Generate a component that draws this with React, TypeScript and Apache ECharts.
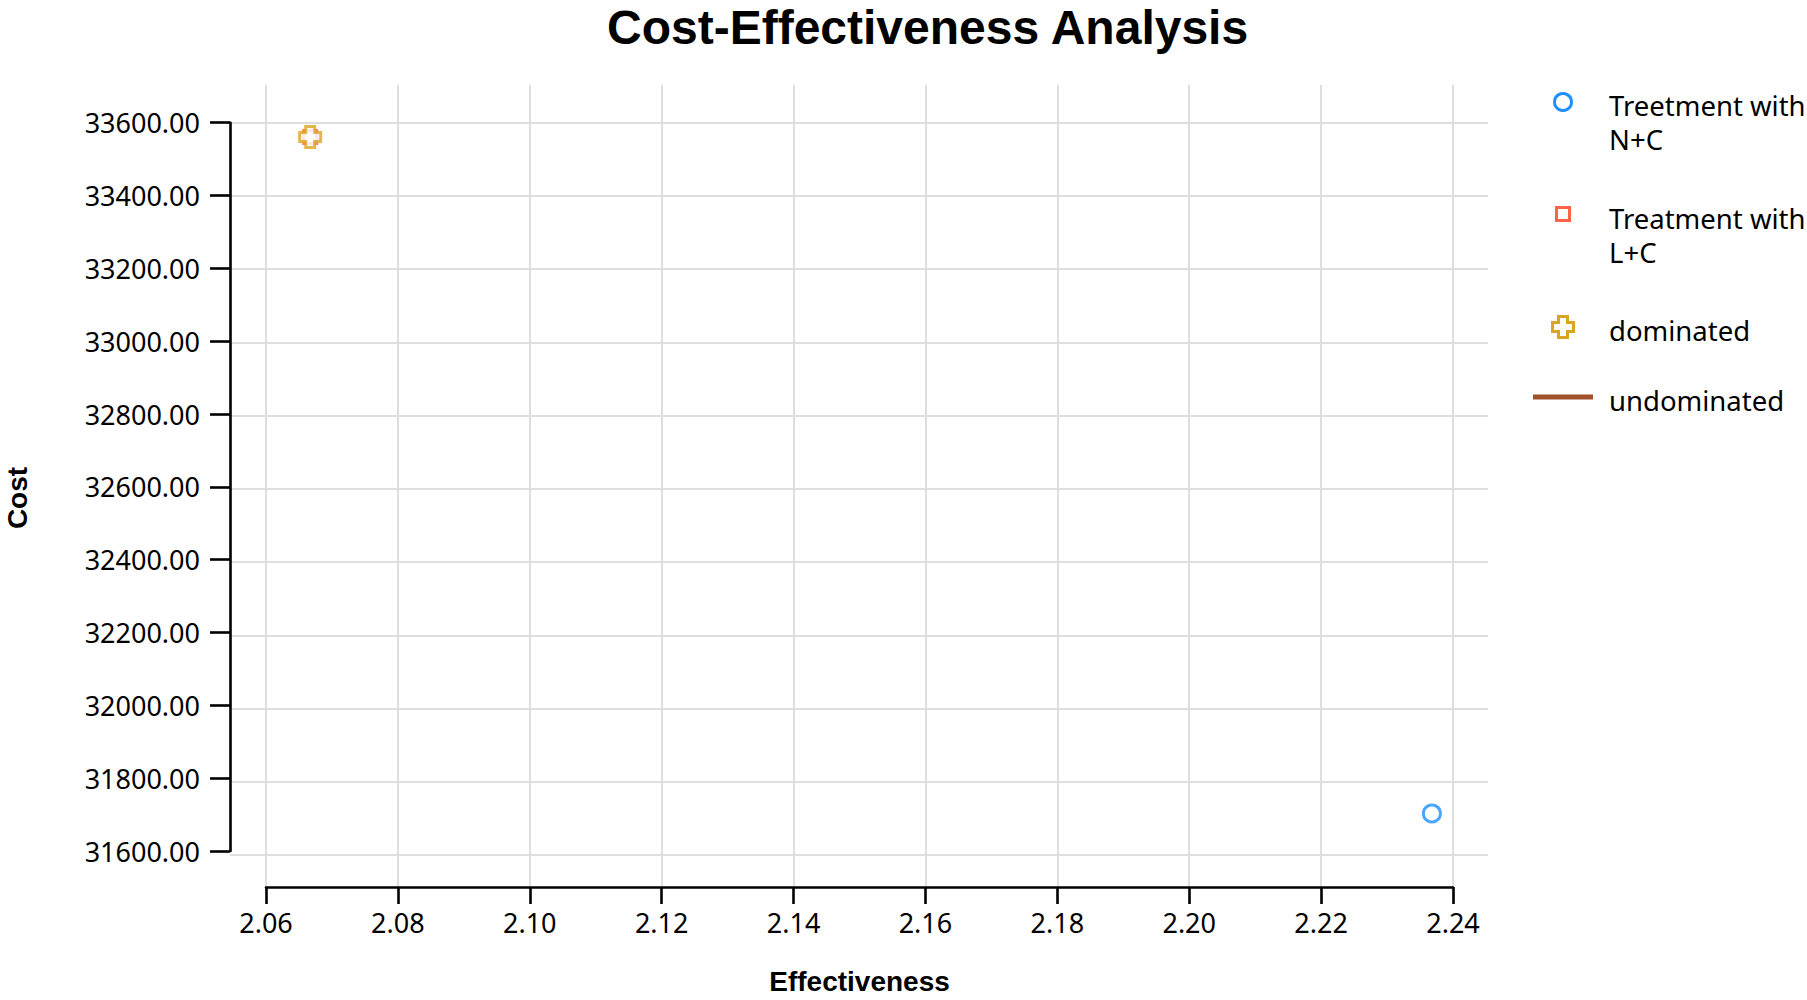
import React, { useEffect, useRef } from 'react';
import * as echarts from 'echarts';

// ---- data ----
const xTicks = [2.06, 2.08, 2.1, 2.12, 2.14, 2.16, 2.18, 2.2, 2.22, 2.24];
const yTicks = [31600, 31800, 32000, 32200, 32400, 32600, 32800, 33000, 33200, 33400, 33600];
const seriesNames = ['Treetment with N+C', 'Treatment with L+C', 'dominated', 'undominated'];
const legendLabels = ['Treetment with\nN+C', 'Treatment with\nL+C', 'dominated', 'undominated'];
const ncPoints = [[2.2368, 31703]];
const lcPoints = [[2.0667, 33561]];
const dominatedPoints = [[2.0667, 33561]];
const undominatedPoints = [[2.2368, 31703]];
const colors = ['dodgerblue', 'tomato', 'goldenrod', 'sienna'];

// ---- layout (pixels) ----
const W = 1807;
const H = 1000;
const Y_AXIS_X = 230; // y axis line
const X0 = 266; // x of first x tick
const X1 = 1453; // x of last x tick
const GRID_R = 1488; // right end of gridlines
const GRID_T = 85; // top of gridlines
const Y_TOP = 122.7; // y of top y tick
const Y_BOT = 855; // y of bottom y tick
const X_AXIS_Y = 891; // x axis line

const FONT = '"Noto Sans", sans-serif';
const BOLD_FONT = '"Liberation Sans", Arial, sans-serif';

const plusPath = 'path://M-4.5,-10.5H4.5V-4.5H10.5V4.5H4.5V10.5H-4.5V4.5H-10.5V-4.5H-4.5Z';

function plusPoints(cx: number, cy: number, s: number, a: number) {
  return [
    [cx - a, cy - s], [cx + a, cy - s], [cx + a, cy - a], [cx + s, cy - a],
    [cx + s, cy + a], [cx + a, cy + a], [cx + a, cy + s], [cx - a, cy + s],
    [cx - a, cy + a], [cx - s, cy + a], [cx - s, cy - a], [cx - a, cy - a],
  ];
}

export default function App() {
  const ref = useRef<HTMLDivElement>(null);
  useEffect(() => {
    if (!ref.current) return;
    const chart = echarts.init(ref.current, undefined, { renderer: 'svg' });

    const xMin = xTicks[0];
    const xMax = xTicks[xTicks.length - 1];
    const yMin = yTicks[0];
    const yMax = yTicks[yTicks.length - 1];
    const xPerPx = (xMax - xMin) / (X1 - X0);
    const yPerPx = (yMax - yMin) / (Y_BOT - Y_TOP);
    const xMinA = xMin - (X0 - Y_AXIS_X) * xPerPx;
    const xMaxA = xMax + (GRID_R - X1) * xPerPx;
    const yMaxA = yMax + (Y_TOP - GRID_T) * yPerPx;
    const yMinA = yMin - (X_AXIS_Y - Y_BOT) * yPerPx;

    const gridLineStyle = { color: '#dedede', width: 2, type: 'solid' as const };
    const axisLineStyle = { color: '#000', width: 2.6 };

    const legendTop = [88, 201, 313, 383];
    const legendIconY = [102, 214, 327, 397];
    const LEG_ICON_X = 1563;
    const LEG_TEXT_X = 1609;

    const legendGraphics: any[] = [
      {
        type: 'circle',
        shape: { cx: LEG_ICON_X, cy: legendIconY[0], r: 8.5 },
        style: { fill: 'none', stroke: colors[0], lineWidth: 3 },
      },
      {
        type: 'rect',
        shape: { x: LEG_ICON_X - 6.5, y: legendIconY[1] - 6.5, width: 13, height: 13 },
        style: { fill: 'none', stroke: colors[1], lineWidth: 3 },
      },
      {
        type: 'polygon',
        shape: { points: plusPoints(LEG_ICON_X, legendIconY[2], 10.5, 4.5) },
        style: { fill: '#fff', stroke: colors[2], lineWidth: 3 },
      },
      {
        type: 'line',
        shape: { x1: 1533, y1: legendIconY[3], x2: 1593, y2: legendIconY[3] },
        style: { stroke: colors[3], lineWidth: 5 },
      },
      ...legendLabels.map((t, i) => ({
        type: 'text',
        x: LEG_TEXT_X,
        y: legendTop[i],
        style: {
          text: t,
          fontSize: 27.5,
          fontFamily: FONT,
          fill: '#000',
          lineHeight: 34,
          align: 'left',
          verticalAlign: 'top',
        },
      })),
      {
        type: 'text',
        x: 17,
        y: 498,
        rotation: Math.PI / 2,
        style: {
          text: 'Cost',
          fontSize: 28,
          fontWeight: 'bold',
          fontFamily: BOLD_FONT,
          fill: '#000',
          align: 'center',
          verticalAlign: 'middle',
        },
      },
    ];

    const option: any = {
      animation: false,
      backgroundColor: '#fff',
      title: {
        text: 'Cost-Effectiveness Analysis',
        left: 607,
        top: 3,
        padding: 0,
        textStyle: { fontSize: 48, fontWeight: 'bold', fontFamily: BOLD_FONT, color: '#000' },
      },
      grid: [
        {
          left: Y_AXIS_X,
          top: GRID_T,
          width: GRID_R - Y_AXIS_X,
          height: X_AXIS_Y - GRID_T,
          containLabel: false,
        },
        {
          left: X0,
          top: Y_TOP,
          width: X1 - X0,
          height: Y_BOT - Y_TOP,
          containLabel: false,
        },
      ],
      xAxis: [
        { type: 'value', gridIndex: 0, min: xMinA, max: xMaxA, show: false, splitLine: { show: false } },
        {
          type: 'value',
          gridIndex: 1,
          min: xMin,
          max: xMax,
          interval: 0.02,
          position: 'bottom',
          offset: X_AXIS_Y - Y_BOT,
          z: 5,
          name: 'Effectiveness',
          nameLocation: 'middle',
          nameGap: 80,
          nameTextStyle: { fontSize: 28, fontWeight: 'bold', fontFamily: BOLD_FONT, color: '#000' },
          axisLine: { show: true, onZero: false, lineStyle: axisLineStyle },
          axisTick: { show: true, length: 17, lineStyle: axisLineStyle },
          axisLabel: {
            margin: 22,
            fontSize: 27,
            fontFamily: FONT,
            color: '#000',
            formatter: (v: number) => v.toFixed(2),
          },
          splitLine: { show: false },
        },
      ],
      yAxis: [
        { type: 'value', gridIndex: 0, min: yMinA, max: yMaxA, show: false, splitLine: { show: false } },
        {
          type: 'value',
          gridIndex: 1,
          min: yMin,
          max: yMax,
          interval: 200,
          position: 'left',
          offset: X0 - Y_AXIS_X,
          z: 5,
          axisLine: { show: true, onZero: false, lineStyle: axisLineStyle },
          axisTick: { show: true, length: 20, lineStyle: axisLineStyle },
          axisLabel: {
            margin: 30,
            fontSize: 27,
            fontFamily: FONT,
            color: '#000',
            formatter: (v: number) => v.toFixed(2),
          },
          splitLine: { show: false },
        },
      ],
      graphic: legendGraphics,
      series: [
        {
          name: 'gridlines',
          type: 'line',
          xAxisIndex: 0,
          yAxisIndex: 0,
          data: [[xMinA, yMinA]],
          showSymbol: false,
          symbolSize: 0,
          lineStyle: { width: 0 },
          silent: true,
          z: 1,
          markLine: {
            silent: true,
            symbol: ['none', 'none'],
            label: { show: false },
            emphasis: { disabled: true },
            lineStyle: gridLineStyle,
            data: [
              ...xTicks.map((v) => ({ xAxis: v })),
              ...yTicks.map((v) => ({ yAxis: v })),
            ],
          },
        },
        {
          name: seriesNames[0],
          type: 'scatter',
          xAxisIndex: 1,
          yAxisIndex: 1,
          data: ncPoints,
          symbol: 'circle',
          symbolSize: 17,
          z: 3,
          itemStyle: { color: '#fff', borderColor: colors[0], borderWidth: 3 },
        },
        {
          name: seriesNames[1],
          type: 'scatter',
          xAxisIndex: 1,
          yAxisIndex: 1,
          data: lcPoints,
          symbol: 'rect',
          symbolSize: 13,
          z: 3,
          itemStyle: { color: '#fff', borderColor: colors[1], borderWidth: 3 },
        },
        {
          name: seriesNames[2],
          type: 'scatter',
          xAxisIndex: 1,
          yAxisIndex: 1,
          data: dominatedPoints,
          symbol: plusPath,
          symbolSize: 21,
          z: 4,
          itemStyle: { color: '#fff', borderColor: colors[2], borderWidth: 3 },
        },
        {
          name: seriesNames[3],
          type: 'line',
          xAxisIndex: 1,
          yAxisIndex: 1,
          data: undominatedPoints,
          showSymbol: false,
          z: 3,
          lineStyle: { color: colors[3], width: 5 },
          itemStyle: { color: colors[3] },
        },
      ],
    };

    chart.setOption(option);
    return () => chart.dispose();
  }, []);

  return (
    <div
      ref={ref}
      style={{ position: 'fixed', left: 0, top: 0, width: W, height: H, background: '#fff' }}
    />
  );
}
